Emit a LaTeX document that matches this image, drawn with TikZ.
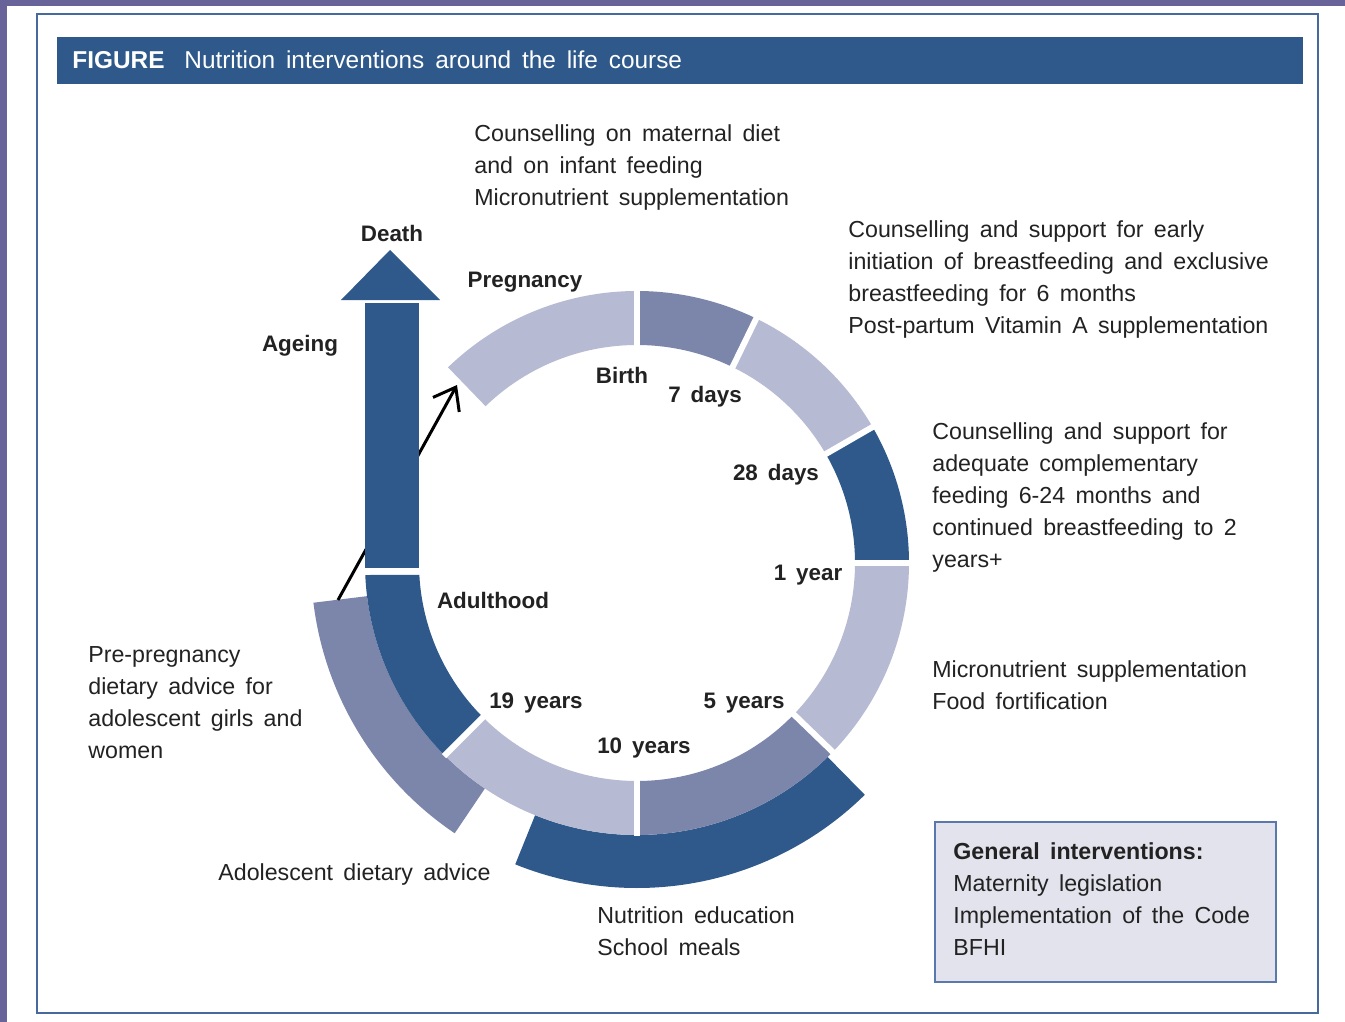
\documentclass[tikz,border=0pt]{standalone}
\usepackage{fontspec}
\setmainfont{Liberation Sans}[WordSpace=1.6]
\definecolor{darkseg}{HTML}{2E598A}
\definecolor{midseg}{HTML}{7C86AB}
\definecolor{lightseg}{HTML}{B6BAD3}
\definecolor{framepurple}{HTML}{68649A}
\definecolor{frameblue}{HTML}{46699E}
\definecolor{boxblue}{HTML}{5A78AC}
\definecolor{boxfill}{HTML}{E2E3EC}
\definecolor{textgray}{HTML}{222222}
\usetikzlibrary{arrows.meta}
\newcommand{\ringpart}[5]{\fill[color=#1] (#2:#4) arc[start angle=#2,end angle=#3,radius=#4] -- (#3:#5) arc[start angle=#3,end angle=#2,radius=#5] -- cycle;}

\begin{document}
\begin{tikzpicture}[x=0.5pt,y=0.5pt,
    agelabel/.style={font=\fontsize{11.2}{13}\selectfont\bfseries,text=textgray,inner sep=0,anchor=base},
    infotext/.style={font=\fontsize{11.6}{16}\selectfont,text=textgray,inner sep=0,anchor=north west,align=left},
    titletext/.style={font=\fontsize{12.2}{15}\selectfont,text=white,inner sep=0,anchor=base west}]
    \useasboundingbox (0,0) rectangle (1345,-1022);
    \fill[color=white] (0,0) rectangle (1345,-1022);
    \fill[color=framepurple] (0,0) rectangle (1345,-6);
    \fill[color=framepurple] (0,0) rectangle (7,-1022);
    \draw[color=frameblue,line width=1.2pt] (37,-14) rectangle (1318,-1013);

    \fill[color=darkseg] (57,-37) rectangle (1303,-84);
    \node[titletext] (figword) at (72,-69) {\bfseries FIGURE};
    \node[titletext] (figtitle) at (184,-69) {Nutrition interventions around the life course};

    \begin{scope}[shift={(637,-563)}]
      \ringpart{midseg}{-173}{-124}{272}{326}
      \ringpart{darkseg}{-112}{-45.5}{272}{325}
      \coordinate (loopstart) at (-299,-37);
      \coordinate (loopend) at (-180,178);
      \draw[-{Straight Barb[length=10pt,width=15pt]},line width=1.5pt,color=black] (loopstart) -- (loopend);

      \ringpart{lightseg}{90}{134}{218}{272}
      \ringpart{midseg}{64}{90}{218}{272}
      \ringpart{lightseg}{30}{64}{218}{272}
      \ringpart{darkseg}{0}{30}{218}{272}
      \ringpart{lightseg}{-44}{0}{218}{272}
      \ringpart{midseg}{-90}{-44}{218}{272}
      \ringpart{lightseg}{-135}{-90}{218}{272}
      \fill[color=darkseg] (-135:218) arc[start angle=-135,end angle=-176.85,radius=218] -- (-177.47:272) arc[start angle=-177.47,end angle=-135,radius=272] -- cycle;
      \foreach \a in {90,64,30,0,-44,-90,-135}
        \draw[color=white,line width=3pt] (\a:212) -- (\a:273);
    \end{scope}

    \fill[color=darkseg] (365,-303) rectangle (419,-568);
    \fill[color=darkseg] (341,-300) -- (440,-300) -- (390,-250) -- cycle;

    \node[agelabel] (death) at (392,-242) {Death};
    \node[agelabel] (ageing) at (300,-351) {Ageing};
    \node[agelabel] (pregnancy) at (525,-287) {Pregnancy};
    \node[agelabel] (birth) at (622,-383) {Birth};
    \node[agelabel] (days7) at (705,-402) {7 days};
    \node[agelabel] (days28) at (776,-480) {28 days};
    \node[agelabel] (year1) at (808,-580) {1 year};
    \node[agelabel] (adulthood) at (493,-608) {Adulthood};
    \node[agelabel] (years19) at (536,-708) {19 years};
    \node[agelabel] (years5) at (744,-708) {5 years};
    \node[agelabel] (years10) at (644,-753) {10 years};

    \node[infotext] (maternal) at (474,-124) {Counselling on maternal diet\\and on infant feeding\\Micronutrient supplementation};
    \node[infotext] (earlybf) at (848,-220) {Counselling and support for early\\initiation of breastfeeding and exclusive\\breastfeeding for 6 months\\Post-partum Vitamin A supplementation};
    \node[infotext] (compfeed) at (932,-422) {Counselling and support for\\adequate complementary\\feeding 6-24 months and\\continued breastfeeding to 2\\years+};
    \node[infotext] (micro) at (932,-660) {Micronutrient supplementation\\Food fortification};
    \node[infotext] (prepreg) at (88,-646) {Pre-pregnancy\\dietary advice for\\adolescent girls and\\women};
    \node[infotext] (adolescent) at (218,-863) {Adolescent dietary advice};
    \node[infotext] (school) at (597,-906) {Nutrition education\\School meals};

    \draw[color=boxblue,fill=boxfill,line width=0.8pt] (935,-822) rectangle (1276,-982);
    \node[infotext] (general) at (953,-842) {\textbf{General interventions:}\\Maternity legislation\\Implementation of the Code\\BFHI};
\end{tikzpicture}
\end{document}
